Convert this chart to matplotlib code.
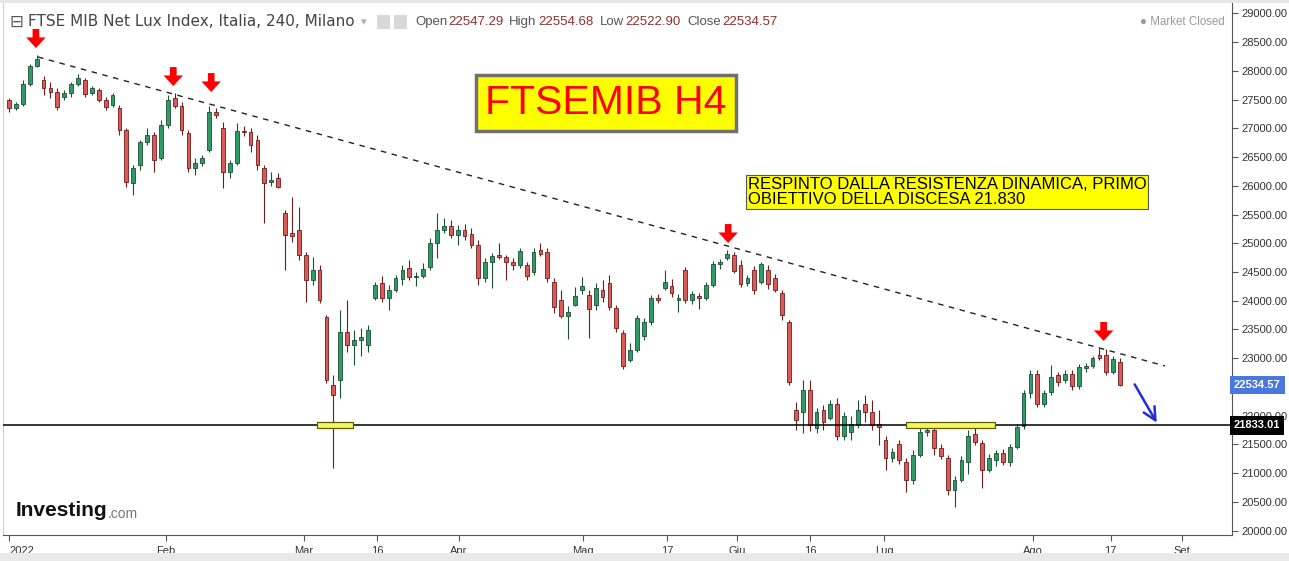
import numpy as np
import matplotlib
matplotlib.use("Agg")
from matplotlib import pyplot as plt
from matplotlib import transforms
from matplotlib.patches import Rectangle


# daily OHLC (Jan 3 -> Aug 19, 2022)
opens = [27492, 27352, 27422, 27770, 28083, 27839, 27700, 27631, 27544, 27613,
         27770, 27839, 27613, 27666, 27492, 27405, 27352, 26970, 26048, 26361,
         26761, 26883, 26483, 27057, 27526, 27387, 26917, 26309, 26396, 26622,
         27283, 27004, 26239, 26396, 26952, 26935, 26796, 26309, 26065, 26135,
         25526, 25178, 25230, 24795, 24361, 24534, 23717, 22534, 22621, 23456,
         23230, 23317, 23230, 24047, 24308, 24047, 24186, 24378, 24569, 24413,
         24430, 24587, 25004, 25230, 25300, 25143, 25230, 25161, 24969, 24395,
         24674, 24795, 24761, 24674, 24621, 24621, 24499, 24882, 24848, 24326,
         24013, 23734, 23926, 24186, 24100, 23926, 24186, 24308, 23873, 23439,
         22969, 23143, 23386, 23630, 24047, 24221, 24256, 24013, 24534, 24013,
         24082, 24047, 24273, 24639, 24743, 24795, 24621, 24308, 24534, 24326,
         24534, 24395, 24134, 23630, 22099, 22064, 22447, 21786, 22099, 21960,
         22203, 21647, 21716, 21838, 22203, 22064, 21855, 21577, 21264, 21508,
         21195, 20881, 21316, 21716, 21751, 21438, 21264, 20707, 20881, 21195,
         21682, 21525, 21055, 21229, 21351, 21195, 21455, 21821, 22395, 22725,
         22203, 22412, 22708, 22621, 22725, 22517, 22830, 22864, 23056, 23056,
         22760, 22934]
highs = [27526, 27457, 27839, 28118, 28274, 27909, 27805, 27700, 27666, 27805,
         27944, 27874, 27735, 27700, 27544, 27613, 27405, 27004, 26361, 26796,
         27004, 26935, 27144, 27579, 27613, 27457, 26970, 26483, 26535, 27387,
         27352, 27109, 26448, 27091, 27039, 27004, 26883, 26361, 26239, 26222,
         25578, 25804, 25630, 24848, 24761, 24621, 23752, 22708, 23839, 24013,
         23491, 23525, 23577, 24326, 24430, 24273, 24447, 24621, 24708, 24499,
         24656, 25091, 25526, 25439, 25404, 25317, 25335, 25265, 25056, 24743,
         24830, 25004, 24795, 24743, 24917, 24674, 24917, 25004, 24917, 24395,
         24186, 23908, 24239, 24413, 24186, 24308, 24361, 24447, 23926, 23491,
         23264, 23752, 23700, 24100, 24117, 24534, 24378, 24117, 24587, 24169,
         24134, 24326, 24691, 24726, 24882, 24848, 24708, 24447, 24604, 24674,
         24621, 24465, 24186, 23665, 22238, 22621, 22621, 22134, 22186, 22273,
         22308, 22064, 21995, 22273, 22360, 22273, 22099, 21647, 21438, 21577,
         21264, 21403, 21803, 21838, 21803, 21508, 21316, 20951, 21299, 21751,
         21855, 21577, 21334, 21403, 21421, 21508, 21855, 22447, 22795, 22795,
         22447, 22882, 22760, 22795, 22795, 22899, 22917, 23038, 23178, 23160,
         23038, 23003]
lows = [27283, 27318, 27387, 27735, 28066, 27579, 27526, 27318, 27492, 27544,
        27735, 27544, 27579, 27457, 27318, 27370, 26883, 25978, 25839, 26274,
        26709, 26239, 26448, 27004, 27352, 26883, 26239, 26187, 26343, 26587,
        27178, 25961, 26135, 26361, 26865, 26587, 26274, 25352, 25996, 25961,
        24534, 25021, 24708, 23978, 24273, 23961, 22569, 21090, 22308, 23108,
        22882, 23038, 23108, 24013, 23978, 23839, 24152, 24273, 24361, 24256,
        24395, 24534, 24743, 25178, 25091, 24969, 25056, 24917, 24273, 24326,
        24221, 24726, 24361, 24534, 24569, 24361, 24447, 24778, 24326, 23787,
        23700, 23334, 23908, 24117, 23352, 23839, 23978, 23839, 23456, 22812,
        22934, 23108, 23317, 23577, 23961, 24186, 24065, 23804, 23961, 23943,
        23856, 24013, 24239, 24552, 24708, 24482, 24239, 24256, 24117, 24291,
        24204, 24152, 23665, 22534, 21751, 21699, 21734, 21699, 21751, 21925,
        21577, 21577, 21577, 21786, 21890, 21751, 21490, 21055, 21195, 21160,
        20673, 20812, 21281, 21647, 21316, 21247, 20620, 20412, 20847, 20986,
        21490, 20742, 21020, 21125, 21142, 21125, 21421, 21769, 22308, 22151,
        22151, 22360, 22517, 22569, 22447, 22465, 22760, 22830, 22969, 22708,
        22725, 22517]
closes = [27352, 27422, 27770, 28083, 28205, 27700, 27631, 27370, 27613, 27770,
          27874, 27596, 27700, 27492, 27370, 27579, 26970, 26065, 26309, 26761,
          26883, 26448, 27057, 27492, 27387, 26970, 26309, 26396, 26483, 27283,
          27231, 26239, 26396, 26952, 26935, 26709, 26361, 26048, 26100, 25978,
          25143, 25126, 24795, 24361, 24534, 24013, 22621, 22360, 23456, 23230,
          23317, 23369, 23491, 24273, 24047, 24186, 24395, 24534, 24413, 24430,
          24552, 25004, 25230, 25300, 25143, 25230, 25126, 24969, 24395, 24674,
          24778, 24761, 24674, 24621, 24865, 24430, 24848, 24813, 24395, 23891,
          23734, 23804, 24082, 24256, 23856, 24221, 24065, 23891, 23525, 22864,
          23143, 23700, 23630, 24047, 24013, 24326, 24134, 24047, 24013, 24117,
          24047, 24273, 24639, 24674, 24813, 24517, 24291, 24395, 24186, 24639,
          24291, 24186, 23752, 22586, 21925, 22447, 21838, 22064, 21890, 22203,
          21647, 21995, 21855, 22099, 22064, 21838, 21803, 21264, 21368, 21229,
          20881, 21316, 21716, 21751, 21438, 21299, 20707, 20881, 21229, 21647,
          21542, 21055, 21264, 21351, 21195, 21455, 21803, 22395, 22725, 22203,
          22395, 22673, 22586, 22725, 22517, 22847, 22864, 23003, 23003, 22760,
          22986, 22534.57]

last_bar = {"Open": "22547.29", "High": "22554.68", "Low": "22522.90", "Close": "22534.57"}
support = 21833.01

# x tick labels and where they sit (in bar units)
tick_labels = ["2022", "Feb", "Mar", "16", "Apr", "Mag", "17", "Giu", "16", "Lug", "Ago", "17", "Set"]
tick_pos = [0, 22.75, 42.75, 53.3, 65.2, 83.2, 95.4, 105.5, 116.1, 126.8, 148.3, 159.6, 169.9]

# annotations
trend_x = [4.2, 167.5]
trend_y = [28240, 22865]
red_arrows = [(3.9, 28396), (23.8, 27735), (29.3, 27631), (104.2, 25004), (158.6, 23300)]
zones = [(44.6, 49.9), (129.9, 142.9)]
blue_arrow = [(162.9, 22586), (166.5, 21838)]

W, H = 1289, 561
fig = plt.figure(figsize=(W / 100, H / 100), dpi=100)
ax = fig.add_axes([3 / W, 26 / H, 1229 / W, 532 / H])


def fx(px):
    return px / W


def fy(py):
    return 1 - py / H


o = np.array(opens, dtype=float)
h = np.array(highs, dtype=float)
l = np.array(lows, dtype=float)
c = np.array(closes, dtype=float)
x = np.arange(len(o))
up = c >= o

green, green_edge = "#2f9a66", "#1d4f35"
red, red_edge = "#dc5a56", "#6e1c1c"

ax.vlines(x[up], l[up], h[up], color=green_edge, lw=0.8, zorder=2)
ax.vlines(x[~up], l[~up], h[~up], color=red_edge, lw=0.8, zorder=2)
body = np.maximum(np.abs(c - o), 12)
ax.bar(x[up], body[up], bottom=np.minimum(o, c)[up], width=0.55,
       color=green, edgecolor=green_edge, linewidth=0.6, zorder=3)
ax.bar(x[~up], body[~up], bottom=np.minimum(o, c)[~up], width=0.55,
       color=red, edgecolor=red_edge, linewidth=0.6, zorder=3)

# trendline, support line, zones
ax.plot(trend_x, trend_y, color="#222222", lw=1, dashes=(4, 4), zorder=4)
ax.axhline(support, color="black", lw=1.1, zorder=4)
for x0, x1 in zones:
    ax.add_patch(Rectangle((x0, support - 50), x1 - x0, 104, facecolor="#f7f75a",
                           edgecolor="#5c5c10", lw=0.9, zorder=5))

for xa, ya in red_arrows:
    ax.annotate("", xy=(xa, ya), xytext=(xa, ya + 330),
                arrowprops=dict(arrowstyle="simple,head_width=0.7,head_length=0.38,tail_width=0.24",
                                mutation_scale=20, color="#ff0000", lw=0,
                                shrinkA=0, shrinkB=0), zorder=6)

ax.annotate("", xy=blue_arrow[1], xytext=blue_arrow[0],
            arrowprops=dict(arrowstyle="->,head_length=0.9,head_width=0.45",
                            color="#1f2fd8", lw=1.8), zorder=6)

ax.set_xlim(-0.87, 177.2)
ax.set_ylim(19925, 29179)

# axes look; the 22500 label sits under the last price box
yt = np.arange(20000, 29001, 500)
ax.yaxis.tick_right()
ax.set_yticks(yt)
ax.set_yticklabels(["" if v == 22500 else "%.2f" % v for v in yt])
ax.set_xticks(tick_pos)
ax.set_xticklabels(tick_labels)
ax.tick_params(axis="both", labelsize=8, colors="#555555", labelcolor="#333333",
               length=4, width=0.8)
ax.tick_params(axis="x", pad=4)
ax.tick_params(axis="y", pad=3)
for lab in ax.get_xticklabels() + ax.get_yticklabels():
    lab.set_family("Liberation Sans")
ax.get_xticklabels()[0].set_horizontalalignment("left")
ax.spines["top"].set_visible(False)
ax.spines["left"].set_color("#d0d0d0")
ax.spines["right"].set_color("#555555")
ax.spines["bottom"].set_color("#555555")

# price labels on the axis
tr = transforms.blended_transform_factory(ax.transAxes, ax.transData)
ax.text(1.0015, closes[-1], "%.2f" % closes[-1], transform=tr, ha="left", va="center",
        fontsize=8, color="white", family="Liberation Sans", fontweight="bold",
        bbox=dict(boxstyle="square,pad=0.38", facecolor="#4a78e0", edgecolor="none"), zorder=10)
ax.text(1.0015, support, "%.2f" % support, transform=tr, ha="left", va="center",
        fontsize=8, color="white", family="Liberation Sans", fontweight="bold",
        bbox=dict(boxstyle="square,pad=0.38", facecolor="black", edgecolor="none"), zorder=10)

# header
fig.text(fx(9), fy(22), "\u229f", fontsize=12, color="#555555", va="center")
fig.text(fx(28), fy(22), "FTSE MIB Net Lux Index, Italia, 240, Milano", fontsize=11,
         color="#444444", va="center", family="DejaVu Sans")
fig.text(fx(361), fy(22), "\u25be", fontsize=8, color="#aaaaaa", va="center")
fig.patches.append(Rectangle((fx(377), fy(29)), 13 / W, 14 / H, transform=fig.transFigure,
                             facecolor="#d8d8d8", edgecolor="none"))
fig.patches.append(Rectangle((fx(394), fy(29)), 13 / W, 14 / H, transform=fig.transFigure,
                             facecolor="#d8d8d8", edgecolor="none"))
name_px = [415, 509, 600, 687]
val_px = [448, 538, 625, 722]
for (name, val), nx, vx in zip(last_bar.items(), name_px, val_px):
    fig.text(fx(nx), fy(22), name, fontsize=9.5, color="#555555", va="center",
             family="Liberation Sans")
    fig.text(fx(vx), fy(22), val, fontsize=9.5, color="#8f2f2f", va="center",
             family="Liberation Sans")
fig.text(fx(1225), fy(22), "\u25cf Market Closed", fontsize=8.3, color="#9a9a9a",
         va="center", ha="right", family="Liberation Sans")

# chart notes
fig.text(fx(606), fy(103), "FTSEMIB H4", fontsize=29.5, color="#ff0000", ha="center",
         va="center", family="Liberation Sans",
         bbox=dict(boxstyle="square,pad=0.22", facecolor="#ffff00", edgecolor="#707070", lw=2.5))
fig.text(fx(748), fy(192), "RESPINTO DALLA RESISTENZA DINAMICA, PRIMO\nOBIETTIVO DELLA DISCESA 21.830",
         fontsize=12, color="black", ha="left", va="center", family="Liberation Sans",
         linespacing=1.0,
         bbox=dict(boxstyle="square,pad=0.1", facecolor="#ffff00", edgecolor="#555555", lw=0.8))

# logo
fig.text(fx(16), fy(511), "Investing", fontsize=15, fontweight="bold", color="#111111",
         va="center", family="Liberation Sans")
fig.text(fx(108), fy(514), ".com", fontsize=10, color="#777777", va="center",
         family="Liberation Sans")

# frame strips
fig.patches.append(Rectangle((0, fy(3)), 1, 3 / H, transform=fig.transFigure,
                             facecolor="#e6e6e6", edgecolor="none"))
fig.patches.append(Rectangle((0, 0), 1, 8 / H, transform=fig.transFigure,
                             facecolor="#e9e9e9", edgecolor="none"))

fig.savefig("out.png", dpi=100)
